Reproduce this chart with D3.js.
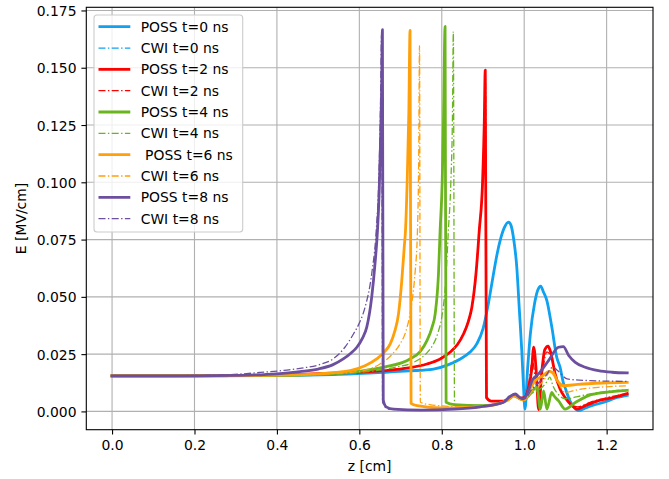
<!DOCTYPE html>
<html>
<head>
<meta charset="utf-8">
<script src="https://cdn.jsdelivr.net/npm/d3@7"></script>
<style>
  html, body { margin: 0; padding: 0; background: #ffffff; }
  svg { display: block; font-family: "DejaVu Sans", sans-serif; }
</style>
</head>
<body>
<svg id="chart" width="669" height="479"></svg>
<script>
// Electric field profiles E(z) at successive times: POSS (solid) and CWI (dash-dot).
// Each series is a list of [z in cm, E in MV/cm].

const possT0 = [[0,0.0155],[0.2,0.0155],[0.4,0.0157],[0.55,0.0162],[0.659,0.0171],[0.72,0.0177],[0.78,0.0185],
  [0.815,0.0203],[0.845,0.0229],[0.868,0.0258],[0.885,0.0295],[0.9,0.0360],[0.913,0.0470],[0.924,0.0585],[0.934,0.0685],
  [0.943,0.0755],[0.952,0.0803],[0.962,0.0826],[0.968,0.0812],[0.975,0.0745],[0.982,0.0630],[0.988,0.0450],[0.994,0.0270],
  [0.998,0.0120],[1.002,0.0010],[1.008,0.0180],[1.015,0.0340],[1.025,0.0470],[1.033,0.0530],[1.040,0.0547],[1.047,0.0520],
  [1.055,0.0484],[1.067,0.0368],[1.079,0.0236],[1.087,0.0193],[1.095,0.0125],[1.099,0.0105],[1.110,0.0050],[1.120,0.0020],
  [1.132,0.0004],[1.145,0.0012],[1.164,0.0025],[1.197,0.0042],[1.220,0.0058],[1.25,0.0070]];
const cwiT0 = [[0,0.0155],[0.2,0.0155],[0.4,0.0157],[0.55,0.0162],[0.659,0.0172],[0.72,0.0178],[0.78,0.0186],
  [0.815,0.0204],[0.845,0.0231],[0.868,0.0260],[0.885,0.0298],[0.9,0.0364],[0.913,0.0474],[0.924,0.0588],[0.934,0.0688],
  [0.943,0.0754],[0.952,0.0800],[0.962,0.0822],[0.968,0.0808],[0.975,0.0741],[0.982,0.0625],[0.988,0.0445],[0.994,0.0265],
  [0.998,0.0115],[1.002,0.0012],[1.008,0.0175],[1.015,0.0335],[1.025,0.0465],[1.033,0.0525],[1.040,0.0543],[1.047,0.0517],
  [1.055,0.0480],[1.067,0.0365],[1.079,0.0234],[1.087,0.0190],[1.095,0.0124],[1.099,0.0104],[1.110,0.0052],[1.120,0.0022],
  [1.132,0.0006],[1.145,0.0014],[1.164,0.0027],[1.197,0.0044],[1.220,0.0060],[1.25,0.0072]];

const possT2 = [[0,0.0155],[0.3,0.0156],[0.456,0.0162],[0.55,0.0168],[0.659,0.0178],[0.72,0.0190],[0.764,0.0207],
  [0.795,0.0228],[0.820,0.0258],[0.838,0.0292],[0.853,0.0339],[0.864,0.0390],[0.873,0.0455],[0.883,0.0601],[0.891,0.0790],
  [0.899,0.1000],[0.903,0.1250],[0.9055,0.1490],[0.9085,0.0060],[0.92,0.0045],[0.95,0.0045],[0.965,0.0060],[0.975,0.0072],
  [0.99,0.0058],[1.0,0.0060],[1.01,0.0100],[1.018,0.0180],[1.023,0.0280],[1.029,0.0180],[1.035,0.0008],[1.042,0.0160],
  [1.05,0.0270],[1.058,0.0285],[1.064,0.0260],[1.075,0.0164],[1.087,0.0098],[1.099,0.0061],[1.116,0.0025],[1.128,0.0010],
  [1.148,0.0025],[1.18,0.0047],[1.221,0.0063],[1.25,0.0078]];
const cwiT2 = [[0,0.0155],[0.3,0.0156],[0.456,0.0162],[0.55,0.0168],[0.659,0.0179],[0.72,0.0191],[0.764,0.0208],
  [0.795,0.0230],[0.820,0.0260],[0.838,0.0295],[0.853,0.0342],[0.864,0.0395],[0.873,0.0462],[0.883,0.0610],[0.891,0.0800],
  [0.899,0.1010],[0.903,0.1260],[0.9060,0.1470],[0.9090,0.0055],[0.92,0.0045],[0.95,0.0046],[0.965,0.0060],[0.975,0.0070],
  [0.99,0.0058],[1.0,0.0062],[1.01,0.0110],[1.02,0.0220],[1.03,0.0120],[1.04,0.0140],[1.055,0.0260],[1.065,0.0240],
  [1.08,0.0130],[1.1,0.0060],[1.13,0.0020],[1.16,0.0040],[1.2,0.0060],[1.25,0.0078]];

const possT4 = [[0,0.0155],[0.3,0.0156],[0.4,0.0157],[0.5,0.0162],[0.6,0.0175],[0.659,0.0193],[0.723,0.0229],
  [0.748,0.0262],[0.764,0.0309],[0.776,0.0365],[0.784,0.0426],[0.792,0.0601],[0.796,0.0790],[0.801,0.1000],[0.804,0.1250],
  [0.808,0.1680],[0.8105,0.0040],[0.83,0.0030],[0.9,0.0025],[0.94,0.0035],[0.96,0.0050],[0.975,0.0068],[0.99,0.0055],
  [1.0,0.0050],[1.015,0.0080],[1.031,0.0105],[1.039,0.0010],[1.047,0.0090],[1.055,0.0010],[1.067,0.0083],[1.072,0.0068],
  [1.083,0.0047],[1.099,0.0010],[1.124,0.0039],[1.156,0.0069],[1.197,0.0083],[1.25,0.0092]];
const cwiT4 = [[0,0.0155],[0.3,0.0156],[0.5,0.0160],[0.6,0.0170],[0.68,0.0190],[0.740,0.0222],[0.765,0.0258],
  [0.780,0.0295],[0.791,0.0345],[0.800,0.0411],[0.810,0.0580],[0.816,0.0790],[0.822,0.1000],[0.826,0.1300],[0.828,0.1658],
  [0.831,0.0030],[0.86,0.0025],[0.93,0.0030],[0.96,0.0050],[0.975,0.0068],[0.99,0.0055],[1.0,0.0050],[1.02,0.0080],
  [1.04,0.0100],[1.055,0.0130],[1.062,0.0150],[1.07,0.0110],[1.085,0.0070],[1.1,0.0055],[1.13,0.0065],[1.17,0.0080],
  [1.25,0.0095]];

const possT6 = [[0,0.0155],[0.3,0.0156],[0.4,0.0158],[0.5,0.0164],[0.578,0.0178],[0.615,0.0200],[0.642,0.0229],
  [0.662,0.0262],[0.675,0.0295],[0.686,0.0350],[0.695,0.0426],[0.703,0.0572],[0.709,0.0718],[0.712,0.0790],[0.716,0.1000],
  [0.720,0.1300],[0.723,0.1663],[0.7255,0.0035],[0.74,0.0025],[0.8,0.0015],[0.87,0.0018],[0.93,0.0030],[0.96,0.0050],
  [0.975,0.0068],[0.99,0.0055],[1.0,0.0050],[1.015,0.0100],[1.027,0.0134],[1.045,0.0155],[1.06,0.0175],[1.068,0.0170],
  [1.083,0.0127],[1.095,0.0112],[1.13,0.0118],[1.19,0.0124],[1.25,0.0127]];
const cwiT6 = [[0,0.0155],[0.4,0.0157],[0.5,0.0162],[0.6,0.0175],[0.650,0.0207],[0.680,0.0250],[0.699,0.0295],
  [0.713,0.0350],[0.723,0.0426],[0.730,0.0510],[0.735,0.0601],[0.741,0.0790],[0.744,0.1100],[0.746,0.1596],[0.748,0.0040],
  [0.77,0.0030],[0.85,0.0020],[0.93,0.0030],[0.96,0.0050],[0.975,0.0068],[0.99,0.0055],[1.0,0.0050],[1.02,0.0090],
  [1.04,0.0120],[1.06,0.0170],[1.067,0.0190],[1.075,0.0160],[1.09,0.0100],[1.099,0.0083],[1.13,0.0095],[1.18,0.0105],
  [1.25,0.0112]];

const possT8 = [[0,0.0155],[0.2,0.0155],[0.3,0.0157],[0.4,0.0164],[0.456,0.0174],[0.5,0.0185],[0.535,0.0203],
  [0.561,0.0229],[0.580,0.0255],[0.594,0.0280],[0.607,0.0318],[0.618,0.0368],[0.630,0.0499],[0.638,0.0645],[0.644,0.0790],
  [0.648,0.0950],[0.651,0.1150],[0.654,0.1400],[0.656,0.1666],[0.658,0.0050],[0.665,0.0020],[0.683,0.0010],[0.75,0.0006],
  [0.83,0.0010],[0.893,0.0020],[0.95,0.0040],[0.965,0.0065],[0.978,0.0076],[0.99,0.0060],[0.998,0.0055],[1.01,0.0090],
  [1.019,0.0134],[1.035,0.0164],[1.059,0.0222],[1.083,0.0280],[1.095,0.0283],[1.108,0.0244],[1.124,0.0214],[1.148,0.0193],
  [1.18,0.0178],[1.213,0.0171],[1.25,0.0168]];
const cwiT8 = [[0,0.0155],[0.25,0.0158],[0.36,0.0170],[0.456,0.0188],[0.505,0.0205],[0.537,0.0230],[0.565,0.0280],
  [0.586,0.0339],[0.601,0.0390],[0.614,0.0455],[0.630,0.0601],[0.641,0.0790],[0.647,0.1000],[0.651,0.1300],[0.654,0.1650],
  [0.6565,0.0040],[0.67,0.0010],[0.75,0.0006],[0.83,0.0010],[0.893,0.0020],[0.95,0.0040],[0.965,0.0062],[0.978,0.0072],
  [0.99,0.0058],[1.0,0.0055],[1.02,0.0100],[1.05,0.0150],[1.07,0.0193],[1.08,0.0180],[1.104,0.0142],[1.15,0.0135],
  [1.25,0.0131]];

const seriesLabels = ["POSS t=0 ns", "CWI t=0 ns", "POSS t=2 ns", "CWI t=2 ns", "POSS t=4 ns",
  "CWI t=4 ns", " POSS t=6 ns", "CWI t=6 ns", "POSS t=8 ns", "CWI t=8 ns"];
const seriesColors = ["#10a2f0", "#10a2f0", "#ff0000", "#ff0000", "#6ab51d",
  "#6ab51d", "#ffa00a", "#ffa00a", "#6c4f9e", "#6c4f9e"];
const seriesData = [possT0, cwiT0, possT2, cwiT2, possT4, cwiT4, possT6, cwiT6, possT8, cwiT8];

const xTicks = [0.0, 0.2, 0.4, 0.6, 0.8, 1.0, 1.2];
const yTicks = [0.000, 0.025, 0.050, 0.075, 0.100, 0.125, 0.150, 0.175];

const W = 669, H = 479;
const margin = { left: 86.3, right: 16, top: 7.3, bottom: 49.3 };
const svg = d3.select("#chart");

// Data limits padded by 5% on each side
const allPts = seriesData.flat();
const xExt = d3.extent(allPts, d => d[0]);
const yExt = d3.extent(allPts, d => d[1]);
const xPad = 0.05 * (xExt[1] - xExt[0]);
const yPad = 0.05 * (yExt[1] - yExt[0]);

const x = d3.scaleLinear().domain([xExt[0] - xPad, xExt[1] + xPad]).range([margin.left, W - margin.right]);
const y = d3.scaleLinear().domain([yExt[0] - yPad, yExt[1] + yPad]).range([H - margin.bottom, margin.top]);

const fontSize = 13.9;
const gridColor = "#b0b0b0";

// grid
const grid = svg.append("g");
grid.selectAll(".gx").data(xTicks).join("line")
  .attr("x1", d => x(d)).attr("x2", d => x(d))
  .attr("y1", margin.top).attr("y2", H - margin.bottom)
  .attr("stroke", gridColor).attr("stroke-width", 1.1);
grid.selectAll(".gy").data(yTicks).join("line")
  .attr("y1", d => y(d)).attr("y2", d => y(d))
  .attr("x1", margin.left).attr("x2", W - margin.right)
  .attr("stroke", gridColor).attr("stroke-width", 1.1);

// curves
svg.append("clipPath").attr("id", "plotclip").append("rect")
  .attr("x", margin.left).attr("y", margin.top)
  .attr("width", W - margin.left - margin.right).attr("height", H - margin.top - margin.bottom);

const line = d3.line().x(d => x(d[0])).y(d => y(d[1])).curve(d3.curveMonotoneX);
const isPoss = i => i % 2 === 0;
const possWidth = 2.8, cwiWidth = 1.3, cwiDash = "7,2.4,1.4,2.4";

const curves = svg.append("g").attr("clip-path", "url(#plotclip)");
seriesData.forEach((s, i) => {
  curves.append("path")
    .attr("d", line(s))
    .attr("fill", "none")
    .attr("stroke", seriesColors[i])
    .attr("stroke-width", isPoss(i) ? possWidth : cwiWidth)
    .attr("stroke-dasharray", isPoss(i) ? null : cwiDash)
    .attr("stroke-linejoin", "round")
    .attr("stroke-linecap", isPoss(i) ? "square" : "butt");
});

// axes
const xAxis = d3.axisBottom(x).tickValues(xTicks).tickFormat(d3.format(".1f")).tickSize(4.9).tickPadding(4.9);
const yAxis = d3.axisLeft(y).tickValues(yTicks).tickFormat(d3.format(".3f")).tickSize(4.9).tickPadding(4.9);

const gx = svg.append("g").attr("transform", `translate(0,${H - margin.bottom})`).call(xAxis);
const gy = svg.append("g").attr("transform", `translate(${margin.left},0)`).call(yAxis);
[gx, gy].forEach(g => {
  g.select(".domain").remove();
  g.selectAll(".tick line").attr("stroke", "#000").attr("stroke-width", 1.1);
  g.selectAll(".tick text").attr("fill", "#000").style("font-size", fontSize + "px")
    .style("font-family", "DejaVu Sans, sans-serif");
});
gx.selectAll(".tick text").attr("dy", "0.76em");
gy.selectAll(".tick text").attr("dy", "0.36em");

// frame
svg.append("rect")
  .attr("x", margin.left).attr("y", margin.top)
  .attr("width", W - margin.left - margin.right).attr("height", H - margin.top - margin.bottom)
  .attr("fill", "none").attr("stroke", "#000").attr("stroke-width", 1.1);

// axis labels
svg.append("text")
  .attr("x", (margin.left + W - margin.right) / 2).attr("y", 470.5)
  .attr("text-anchor", "middle").style("font-size", fontSize + "px")
  .text("z [cm]");
svg.append("text")
  .attr("transform", `translate(26.2,${(margin.top + H - margin.bottom) / 2}) rotate(-90)`)
  .attr("text-anchor", "middle").style("font-size", fontSize + "px")
  .text("E [MV/cm]");

// legend
const leg = svg.append("g");
const legX = 94, legY = 15, legW = 148.7, legH = 217;
leg.append("rect")
  .attr("x", legX).attr("y", legY).attr("width", legW).attr("height", legH)
  .attr("rx", 3).attr("ry", 3)
  .attr("fill", "#ffffff").attr("fill-opacity", 0.8)
  .attr("stroke", "#cccccc").attr("stroke-width", 1.1);
const rowY0 = 26.7, rowStep = 21.33;
seriesLabels.forEach((lab, i) => {
  const ry = rowY0 + i * rowStep;
  leg.append("line")
    .attr("x1", 98.5).attr("x2", 130.3).attr("y1", ry).attr("y2", ry)
    .attr("stroke", seriesColors[i])
    .attr("stroke-width", isPoss(i) ? possWidth : cwiWidth)
    .attr("stroke-dasharray", isPoss(i) ? null : cwiDash);
  leg.append("text")
    .attr("x", 140.7).attr("y", ry).attr("dy", "0.36em")
    .attr("xml:space", "preserve").style("white-space", "pre")
    .style("font-size", fontSize + "px")
    .text(lab);
});
</script>
</body>
</html>
